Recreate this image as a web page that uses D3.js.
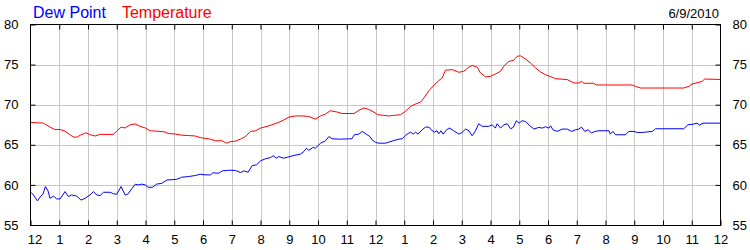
<!DOCTYPE html>
<html>
<head>
<meta charset="utf-8">
<script src="https://cdn.jsdelivr.net/npm/d3@7"></script>
<style>
  html, body { margin: 0; padding: 0; background: #fff; }
  svg { display: block; }
  text { font-family: "Liberation Sans", Arial, sans-serif; }
</style>
</head>
<body>
<svg id="chart" width="750" height="250"></svg>
<script>
// ---- data ----
const dateLabel = "6/9/2010";
const seriesNames = ["Dew Point", "Temperature"];
const hourLabels = ["12","1","2","3","4","5","6","7","8","9","10","11",
                    "12","1","2","3","4","5","6","7","8","9","10","11","12"];
const yTicks = [55, 60, 65, 70, 75, 80];

const tempHours = [0.0,0.2,0.45,0.68,0.85,1.03,1.2,1.37,1.5,1.62,1.73,1.93,2.08,2.25,2.42,2.88,3.0,3.15,3.29,3.47,3.64,3.81,3.99,4.16,4.39,4.68,4.8,5.03,5.26,5.5,5.73,5.9,6.07,6.26,6.43,6.67,6.82,6.96,7.13,7.3,7.48,7.65,7.83,8.0,8.23,8.4,8.64,8.81,8.99,9.22,9.45,9.68,9.91,10.09,10.26,10.43,10.67,10.84,11.25,11.42,11.6,11.77,11.94,12.08,12.29,12.46,12.64,12.87,13.04,13.22,13.39,13.57,13.68,13.86,14.03,14.2,14.32,14.43,14.67,14.9,15.07,15.25,15.36,15.54,15.65,15.83,16.0,16.17,16.35,16.46,16.64,16.81,16.93,17.04,17.22,17.39,17.57,17.74,17.91,18.09,18.26,18.67,18.9,19.07,19.17,19.25,19.59,19.68,20.93,21.04,21.22,22.72,22.9,23.01,23.25,23.36,23.45,24.0];
const tempValues = [67.8,67.75,67.7,67.2,66.9,66.9,66.7,66.25,65.96,65.96,66.2,66.5,66.25,66.1,66.3,66.3,66.7,67.2,67.1,67.5,67.6,67.3,67.1,66.75,66.7,66.6,66.4,66.35,66.2,66.15,66.1,65.9,65.8,65.7,65.5,65.5,65.2,65.4,65.46,65.7,66.04,66.67,66.75,67.08,67.3,67.5,67.8,68.1,68.46,68.6,68.6,68.54,68.2,68.6,68.83,69.25,69.08,68.9,68.9,69.3,69.6,69.4,69.08,68.75,68.67,68.6,68.67,68.75,69.17,69.8,70.08,70.33,70.83,71.75,72.42,73.0,73.33,74.3,74.375,74.04,74.17,74.7,74.9,74.67,73.96,73.46,73.54,73.83,74.17,74.8,75.4,75.54,76.04,76.1,75.7,75.2,74.58,74.08,73.75,73.5,73.25,73.125,72.71,72.71,72.9,72.67,72.67,72.46,72.46,72.29,72.08,72.08,72.29,72.58,72.8,72.9,73.2,73.15];

const dewHours = [0.02,0.1,0.24,0.36,0.43,0.52,0.61,0.68,0.8,0.91,1.03,1.2,1.32,1.43,1.61,1.76,1.9,2.07,2.19,2.3,2.42,2.54,2.77,2.88,3.0,3.15,3.29,3.38,3.52,3.64,3.76,3.87,3.99,4.1,4.24,4.39,4.57,4.74,5.09,5.26,5.5,5.73,5.9,6.07,6.26,6.34,6.55,6.67,6.9,7.13,7.3,7.42,7.57,7.71,7.86,8.0,8.17,8.35,8.44,8.55,8.64,8.79,8.99,9.16,9.39,9.51,9.6,9.68,9.82,9.91,10.09,10.26,10.38,10.49,10.72,11.18,11.26,11.42,11.54,11.71,11.8,11.88,12.0,12.12,12.35,12.46,12.64,12.81,12.93,13.04,13.16,13.22,13.31,13.39,13.48,13.62,13.74,13.86,13.97,14.05,14.14,14.2,14.28,14.35,14.47,14.58,14.72,14.9,15.01,15.13,15.25,15.36,15.48,15.59,15.71,15.94,16.06,16.17,16.23,16.35,16.46,16.58,16.7,16.79,16.9,16.99,17.1,17.22,17.37,17.51,17.68,17.8,17.91,18.03,18.09,18.17,18.32,18.49,18.67,18.82,18.96,19.07,19.17,19.28,19.4,19.51,19.63,19.77,20.12,20.17,20.26,20.35,20.7,20.81,20.99,21.1,21.28,21.63,21.74,22.72,22.87,23.07,23.18,23.27,23.39,24.0];
const dewValues = [59.08,58.75,58.0,58.6,58.83,59.8,59.25,58.33,58.6,58.25,58.25,59.17,58.54,58.75,58.6,58.1,58.33,58.75,59.17,58.75,58.67,59.08,59.08,58.9,58.83,59.8,58.75,58.83,59.5,60.08,60.0,60.1,60.0,59.7,59.7,60.1,60.2,60.6,60.7,60.96,61.04,61.17,61.33,61.25,61.25,61.5,61.46,61.75,61.83,61.8,61.54,61.75,61.58,62.4,62.5,63.0,63.25,63.42,63.625,63.33,63.54,63.33,63.5,63.67,63.83,64.17,64.58,64.3,64.67,64.58,65.2,65.5,66.04,65.75,65.7,65.75,66.25,66.33,66.67,66.25,66.04,65.625,65.3,65.2,65.2,65.33,65.54,65.7,65.75,66.17,66.46,66.58,66.33,66.58,66.33,66.875,67.2,67.2,66.75,66.58,66.75,66.375,66.75,66.33,66.875,67.08,66.75,66.33,66.54,66.96,66.75,66.125,66.75,67.625,67.3,67.3,67.5,67.08,67.625,67.08,67.5,67.625,67.0,67.17,68.0,67.7,68.0,67.9,67.375,66.96,67.17,67.08,67.25,67.08,67.375,66.875,66.67,66.96,66.96,66.67,66.875,66.96,67.2,66.67,66.875,66.46,66.67,66.75,66.75,66.33,66.67,66.25,66.25,66.67,66.67,66.54,66.54,66.67,67.0,67.0,67.5,67.58,67.7,67.46,67.7,67.7];

// ---- layout ----
const svg = d3.select("#chart");
const pLeft = 30.5, pRight = 720.5, pTop = 24.5, pBottom = 225;
const x = d3.scaleLinear().domain([0, 24]).range([pLeft, pRight]);
const y = d3.scaleLinear().domain([55, 80]).range([pBottom, pTop]);
const hourTicks = d3.range(0, 25);
const gridColor = "#c8c8c8";

// gridlines
svg.append("g").selectAll("line").data(hourTicks.slice(1, -1)).join("line")
  .attr("x1", d => Math.round(x(d)) + 0.5).attr("x2", d => Math.round(x(d)) + 0.5)
  .attr("y1", pTop).attr("y2", pBottom)
  .attr("stroke", gridColor).attr("stroke-width", 1);
svg.append("g").selectAll("line").data(yTicks.slice(1, -1)).join("line")
  .attr("y1", d => Math.round(y(d)) + 0.5).attr("y2", d => Math.round(y(d)) + 0.5)
  .attr("x1", pLeft).attr("x2", pRight)
  .attr("stroke", gridColor).attr("stroke-width", 1);

// lines
const lineGen = (hours) => d3.line().x((d, i) => x(hours[i])).y(d => y(d));
svg.append("path").datum(dewValues)
  .attr("d", lineGen(dewHours)).attr("fill", "none")
  .attr("stroke", "#0000ff").attr("stroke-width", 1);
svg.append("path").datum(tempValues)
  .attr("d", lineGen(tempHours)).attr("fill", "none")
  .attr("stroke", "#ff0000").attr("stroke-width", 1);

// frame
svg.append("rect")
  .attr("x", pLeft).attr("y", pTop)
  .attr("width", pRight - pLeft).attr("height", pBottom + 0.5 - pTop)
  .attr("fill", "none").attr("stroke", "#000").attr("stroke-width", 1);

// axes
const fmtHour = (d, i) => hourLabels[i];
const bottomAxis = d3.axisBottom(x).tickValues(hourTicks).tickFormat(fmtHour)
  .tickSizeInner(-5).tickSizeOuter(0).tickPadding(9);
const topAxis = d3.axisTop(x).tickValues(hourTicks.slice(1, -1)).tickFormat("")
  .tickSizeInner(-5).tickSizeOuter(0);
const leftAxis = d3.axisLeft(y).tickValues(yTicks).tickFormat(d3.format("d"))
  .tickSizeInner(-5).tickSizeOuter(0).tickPadding(12);
const rightAxis = d3.axisRight(y).tickValues(yTicks).tickFormat(d3.format("d"))
  .tickSizeInner(-5).tickSizeOuter(0).tickPadding(12);

function style(g) {
  g.select(".domain").remove();
  g.selectAll(".tick line").attr("stroke", "#000");
  g.selectAll("text").attr("fill", "#000").attr("font-size", 13)
    .attr("font-family", "'Liberation Sans', Arial, sans-serif");
}
const gb = svg.append("g").attr("transform", `translate(0,${pBottom + 0.5})`).call(bottomAxis).call(style);
gb.selectAll(".tick").filter(d => d === 0).select("text").attr("dx", 4);
svg.append("g").attr("transform", `translate(0,${pTop})`).call(topAxis).call(style);
svg.append("g").attr("transform", `translate(${pLeft},0)`).call(leftAxis).call(style);
svg.append("g").attr("transform", `translate(${pRight},0)`).call(rightAxis).call(style);

// legend header
const header = svg.append("text").attr("x", 33).attr("y", 18).attr("font-size", 16);
header.append("tspan").attr("fill", "#0000ff").text(seriesNames[0]);
header.append("tspan").attr("fill", "#ff0000").attr("dx", 16).text(seriesNames[1]);

svg.append("text").attr("x", 719).attr("y", 17.5).attr("text-anchor", "end")
  .attr("font-size", 13).attr("fill", "#000").text(dateLabel);
</script>
</body>
</html>
